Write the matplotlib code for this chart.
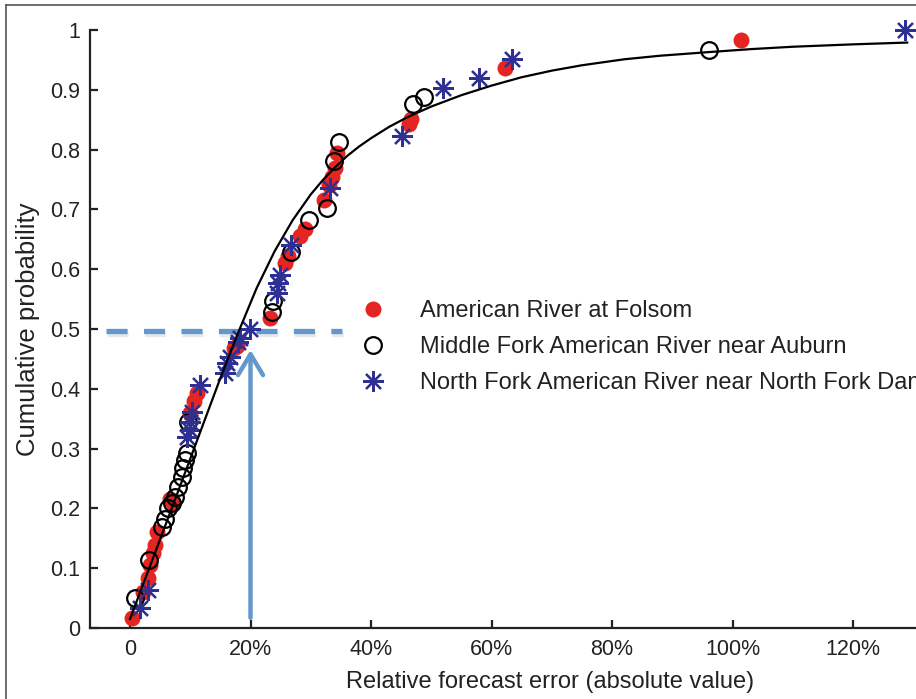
import matplotlib
matplotlib.use("Agg")
import matplotlib.pyplot as plt
from matplotlib.lines import Line2D
import matplotlib.patheffects as pe

plt.rcParams['font.family'] = ['Liberation Sans', 'DejaVu Sans']

# ---------------- data ----------------
red_x = [0.003, 0.022, 0.030, 0.033, 0.038, 0.041, 0.045, 0.066, 0.071,
         0.100, 0.106, 0.112, 0.172, 0.178, 0.232, 0.257, 0.263, 0.282,
         0.290, 0.322, 0.330, 0.336, 0.341, 0.344, 0.463, 0.466, 0.622, 1.014]
red_y = [0.017, 0.060, 0.084, 0.105, 0.125, 0.139, 0.160, 0.215, 0.209,
         0.360, 0.380, 0.393, 0.468, 0.472, 0.518, 0.610, 0.622, 0.655,
         0.668, 0.716, 0.740, 0.754, 0.770, 0.794, 0.842, 0.851, 0.936, 0.984]

circ_x = [0.008, 0.032, 0.053, 0.058, 0.063, 0.070, 0.075, 0.080, 0.086,
          0.088, 0.092, 0.095, 0.096, 0.235, 0.238, 0.268, 0.297, 0.327,
          0.339, 0.347, 0.469, 0.488, 0.961]
circ_y = [0.050, 0.114, 0.169, 0.183, 0.200, 0.209, 0.219, 0.236, 0.253,
          0.268, 0.281, 0.293, 0.345, 0.529, 0.546, 0.628, 0.682, 0.702,
          0.781, 0.813, 0.877, 0.888, 0.967]

star_x = [0.017, 0.030, 0.095, 0.099, 0.100, 0.103, 0.116, 0.158, 0.161,
          0.166, 0.179, 0.183, 0.199, 0.244, 0.246, 0.249, 0.268, 0.332,
          0.452, 0.520, 0.579, 0.634, 1.286]
star_y = [0.033, 0.064, 0.320, 0.331, 0.345, 0.361, 0.406, 0.426, 0.443,
          0.453, 0.478, 0.485, 0.500, 0.560, 0.577, 0.590, 0.640, 0.736,
          0.823, 0.903, 0.920, 0.952, 1.000]

fit_x = [0.0, 0.03, 0.07, 0.11, 0.15, 0.18, 0.21, 0.24, 0.27, 0.30, 0.32,
         0.34, 0.36, 0.38, 0.40, 0.43, 0.46, 0.50, 0.55, 0.60, 0.65, 0.70,
         0.75, 0.82, 0.88, 0.96, 1.03, 1.10, 1.20, 1.29]
fit_y = [0.015, 0.095, 0.202, 0.310, 0.418, 0.495, 0.568, 0.630, 0.682,
         0.725, 0.749, 0.770, 0.789, 0.805, 0.819, 0.838, 0.854, 0.872,
         0.891, 0.907, 0.921, 0.932, 0.941, 0.951, 0.957, 0.963, 0.968,
         0.972, 0.976, 0.979]

labels = ['American River at Folsom',
          'Middle Fork American River near Auburn',
          'North Fork American River near North Fork Dam']

ref_level = 0.497
ref_x_range = [-0.040, 0.352]
arrow_x = 0.20
arrow_y = [0.017, 0.465]

xticks = [0, 0.2, 0.4, 0.6, 0.8, 1.0, 1.2]
xticklabels = ['0', '20%', '40%', '60%', '80%', '100%', '120%']
yticks = [0, 0.1, 0.2, 0.3, 0.4, 0.5, 0.6, 0.7, 0.8, 0.9, 1.0]
yticklabels = ['0', '0.1', '0.2', '0.3', '0.4', '0.5', '0.6', '0.7', '0.8', '0.9', '1']

# ---------------- figure ----------------
W, H = 916, 699
fig = plt.figure(figsize=(W / 100, H / 100), dpi=100)
# axes extends beyond the right edge of the picture (cropped original)
ax = fig.add_axes([90 / W, 71 / H, (1010 - 90) / W, 598 / H])
ax.set_xlim(-0.0664, (1010 - 130) / 602.5)
ax.set_ylim(0, 1)

txt = '#222222'
blue_ref = '#6398cc'
red = '#e52521'
starc = '#2e3192'

# reference dashed line and arrow
ax.plot(ref_x_range, [ref_level, ref_level], color=blue_ref, lw=3.8,
        dashes=(4.0, 3.1), solid_capstyle='butt', dash_capstyle='butt', zorder=1,
        path_effects=[pe.SimpleLineShadow(offset=(0.5, -2.5), shadow_color='#999999', alpha=0.22),
                      pe.Normal()])
ax.annotate('', xy=(arrow_x, arrow_y[1]), xytext=(arrow_x, arrow_y[0]),
            arrowprops=dict(arrowstyle='->,head_length=0.75,head_width=0.45',
                            color=blue_ref, lw=3.2, mutation_scale=20,
                            shrinkA=0, shrinkB=0),
            zorder=1)

ax.plot(red_x, red_y, 'o', ms=11.5, color=red, mec=red, mew=0, ls='none',
        clip_on=False, zorder=2, label=labels[0])
ax.plot(circ_x, circ_y, 'o', ms=12, mfc='none', mec='black', mew=1.6, ls='none',
        clip_on=False, zorder=3, label=labels[1])
ax.plot(star_x, star_y, marker=(8, 2, 0), ms=15, color=starc, mec=starc, mew=1.6,
        ls='none', clip_on=False, zorder=4, label=labels[2])
ax.plot(fit_x, fit_y, '-', color='black', lw=1.6, zorder=5, clip_on=False,
        solid_joinstyle='round')

for s in ['top', 'right']:
    ax.spines[s].set_visible(False)
for s in ['left', 'bottom']:
    ax.spines[s].set_linewidth(1.6)
    ax.spines[s].set_color('#222222')

ax.set_xticks(xticks)
ax.set_xticklabels(xticklabels)
ax.set_yticks(yticks)
ax.set_yticklabels(yticklabels)
ax.tick_params(direction='in', length=6, width=1.6, colors='#222222',
               labelsize=15.5, labelcolor=txt)
ax.tick_params(axis='y', pad=7)
ax.tick_params(axis='x', pad=8)

ax.set_xlabel('Relative forecast error (absolute value)', fontsize=17, color=txt, labelpad=8)
ax.set_ylabel('Cumulative probability', fontsize=18.5, color=txt, labelpad=7)

leg = ax.legend(loc='upper left', bbox_to_anchor=(361 / W, 1 - 300 / H),
                bbox_transform=fig.transFigure, frameon=False, fontsize=17,
                handlelength=1.0, handletextpad=1.5, labelspacing=0.59,
                borderpad=0, borderaxespad=0, numpoints=1)
for t in leg.get_texts():
    t.set_color(txt)

# outer frame (cut at right and bottom)
fig.add_artist(Line2D([6 / W, 6 / W], [0, 1 - 5 / H], transform=fig.transFigure,
                      color='#555555', lw=1.2))
fig.add_artist(Line2D([6 / W, 1], [1 - 5 / H, 1 - 5 / H], transform=fig.transFigure,
                      color='#555555', lw=1.2))

fig.savefig('out.png', dpi=100)
